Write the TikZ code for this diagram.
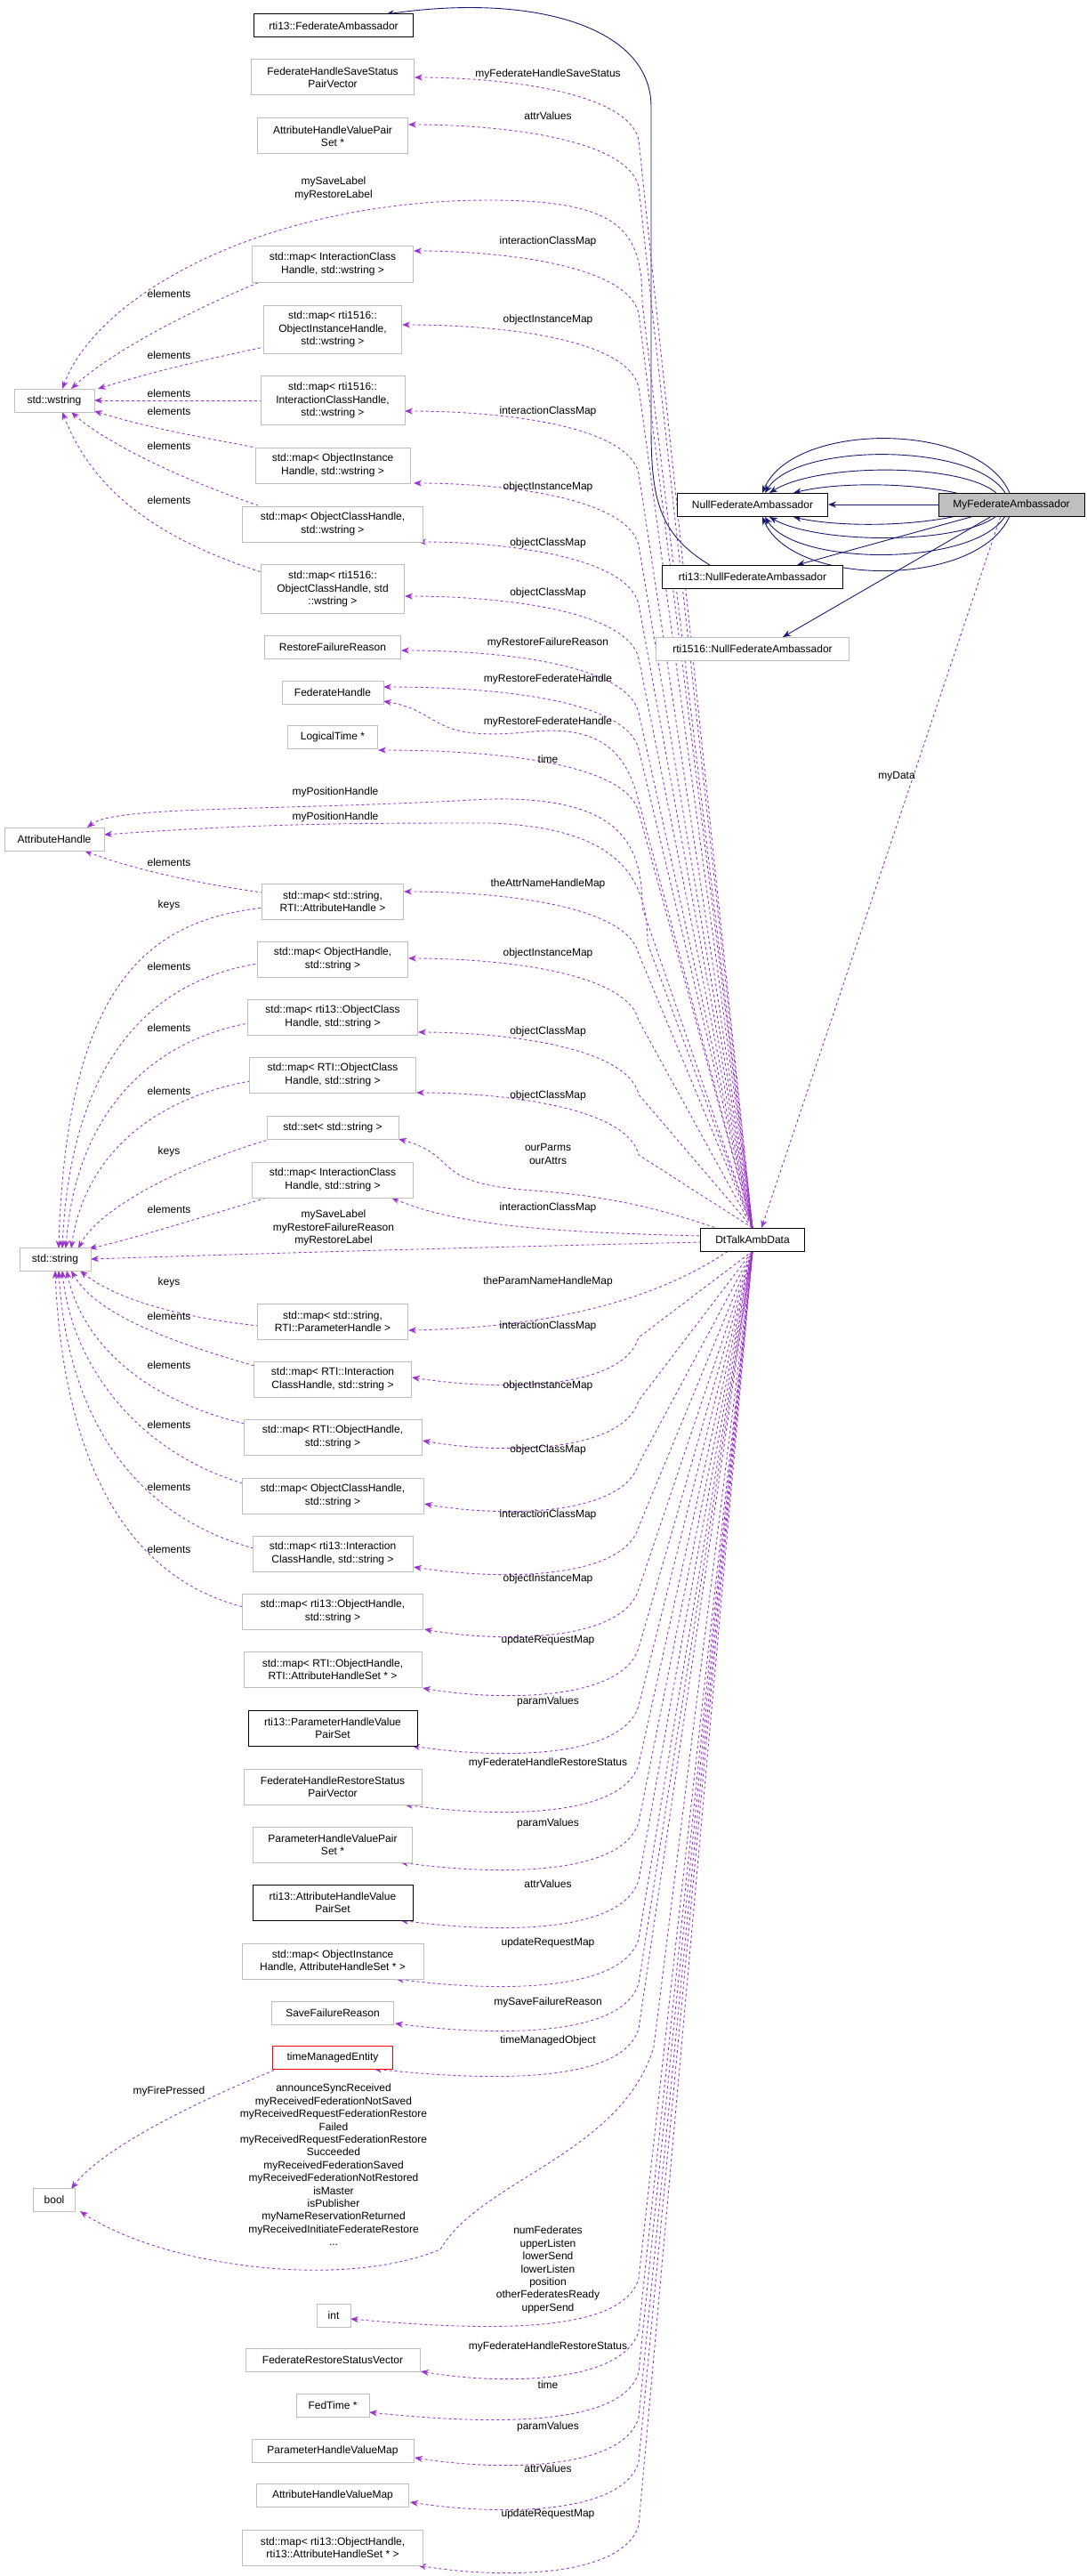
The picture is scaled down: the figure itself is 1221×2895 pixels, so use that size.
\documentclass[tikz,border=0pt]{standalone}
\usepackage{fontspec}
\setmainfont{Liberation Sans}
\usetikzlibrary{arrows.meta,calc}
\definecolor{pur}{HTML}{9A32CD}
\definecolor{nav}{HTML}{191970}
\definecolor{gb}{HTML}{BFBFBF}
\newcommand\bx[7][gb]{\node[box,draw=#1,minimum width=#5pt,minimum height=#6pt] (#2) at (#3,#4) {#7};}
\newcommand\dup[4]{\draw[dep] #1 .. controls (560,#2) and (705,#2+15) .. (718,#2+70) -- (dtn); \node[lab] at (616,#4) {#3};}
\newcommand\ddn[4]{\draw[dep] #1 .. controls (560,#2+15) and (700,#2+15) .. (718,#2-45) -- (dts); \node[lab] at (616,#4) {#3};}
\begin{document}
\begin{tikzpicture}[x=1pt,y=-1pt,
  box/.style={line width=1pt,fill=white,align=center,inner sep=0pt,font=\fontsize{12}{14.4}\selectfont},
  lab/.style={align=center,inner sep=0pt,font=\fontsize{12}{14.4}\selectfont},
  dep/.style={pur,dashed,line width=0.9pt,{Stealth[length=9pt,width=7pt]}-},
  inh/.style={nav,line width=0.9pt,-{Stealth[length=9pt,width=7pt]}}]
\useasboundingbox (0,0) rectangle (1221,2895);
\coordinate (dtn) at (846,1380);
\coordinate (dts) at (846,1406);
% navy
\draw[inh] (798,635) .. controls (740,600) and (732,560) .. (732,480) -- (732,120) .. controls (732,30) and (600,-8) .. (434,16);
\draw[inh] (1055,567) -- (931,567);
\draw[inh] (1135,554) .. controls (1100,473) and (892,473) .. (857,554);
\draw[inh] (1130,554) .. controls (1095,497) and (895,497) .. (860,554);
\draw[inh] (1120,554) .. controls (1080,520) and (920,520) .. (865,554);
\draw[inh] (1075,554) .. controls (1020,542) and (940,542) .. (892,554);
\draw[inh] (1075,580) .. controls (1020,592) and (940,592) .. (892,581);
\draw[inh] (1120,580) .. controls (1080,612) and (920,612) .. (865,581);
\draw[inh] (1130,580) .. controls (1095,637) and (895,637) .. (860,581);
\draw[inh] (1135,580) .. controls (1100,661) and (892,661) .. (857,581);
\draw[inh] (1095,580) -- (896,635);
\draw[inh] (1115,580) -- (880,716);
% myData
\draw[dep] (856,1380) -- (1125,580);
\node[lab] at (1008,873) {myData};
% upward from DtTalkAmbData
\dup{(466,87)}{87}{myFederateHandleSaveStatus}{83}
\dup{(459,140)}{140}{attrValues}{130}
\dup{(465,282)}{282}{interactionClassMap}{271}
\dup{(452,365)}{365}{objectInstanceMap}{359}
\dup{(455,462)}{462}{interactionClassMap}{462}
\dup{(465,543)}{543}{objectInstanceMap}{547}
\dup{(470,609)}{609}{objectClassMap}{610}
\dup{(455,670)}{670}{objectClassMap}{666}
\dup{(451,731)}{731}{myRestoreFailureReason}{722}
\dup{(431,772)}{772}{myRestoreFederateHandle}{763}
\draw[dep] (431,788) .. controls (500,800) and (480,835) .. (600,822) .. controls (680,815) and (705,850) .. (718,900) -- (dtn);
\node[lab] at (616,811) {myRestoreFederateHandle};
\dup{(425,843)}{843}{time}{853}
\dup{(454,1002)}{1002}{theAttrNameHandleMap}{993}
\dup{(459,1077)}{1077}{objectInstanceMap}{1071}
\dup{(470,1160)}{1160}{objectClassMap}{1159}
\dup{(468,1228)}{1228}{objectClassMap}{1231}
\draw[dep] (448,1280) .. controls (520,1300) and (480,1330) .. (600,1338) .. controls (700,1345) and (760,1365) .. (805,1380);
\node[lab] at (616,1297) {ourParms\\ourAttrs};
\draw[dep] (440,1346) .. controls (520,1380) and (640,1385) .. (788,1389);
\node[lab] at (616,1357) {interactionClassMap};
% downward from DtTalkAmbData
\draw[dep] (459,1495) .. controls (620,1492) and (740,1460) .. (820,1405);
\node[lab] at (616,1440) {theParamNameHandleMap};
\ddn{(463,1548)}{1548}{interactionClassMap}{1490}
\ddn{(475,1619)}{1619}{objectInstanceMap}{1557}
\ddn{(477,1690)}{1690}{objectClassMap}{1629}
\ddn{(465,1761)}{1761}{interactionClassMap}{1702}
\ddn{(477,1831)}{1831}{objectInstanceMap}{1774}
\ddn{(475,1897)}{1897}{updateRequestMap}{1843}
\ddn{(463,1962)}{1962}{paramValues}{1912}
\ddn{(455,2028)}{2028}{myFederateHandleRestoreStatus}{1981}
\ddn{(450,2093)}{2093}{paramValues}{2049}
\ddn{(450,2158)}{2158}{attrValues}{2117}
\ddn{(445,2224)}{2224}{updateRequestMap}{2183}
\ddn{(444,2274)}{2274}{mySaveFailureReason}{2250}
\ddn{(420,2325)}{2325}{timeManagedObject}{2293}
\ddn{(394,2606)}{2606}{numFederates\\upperListen\\lowerSend\\lowerListen\\position\\otherFederatesReady\\upperSend}{2551}
\ddn{(473,2665)}{2665}{myFederateHandleRestoreStatus}{2637}
\ddn{(415,2711)}{2711}{time}{2680}
\ddn{(466,2762)}{2762}{paramValues}{2727}
\ddn{(461,2812)}{2812}{attrValues}{2774}
\ddn{(470,2883)}{2883}{updateRequestMap}{2825}
% bool
\draw[dep] (90,2485) .. controls (180,2545) and (380,2575) .. (495,2528) .. controls (540,2450) and (700,2420) .. (735,2300) -- (dts);
\node[lab] at (375,2433) {announceSyncReceived\\myReceivedFederationNotSaved\\myReceivedRequestFederationRestore\\Failed\\myReceivedRequestFederationRestore\\Succeeded\\myReceivedFederationSaved\\myReceivedFederationNotRestored\\isMaster\\isPublisher\\myNameReservationReturned\\myReceivedInitiateFederateRestore\\...};
\draw[dep] (80,2460) .. controls (110,2420) and (200,2370) .. (312,2325);
\node[lab] at (190,2350) {myFirePressed};
% wstring
\draw[dep] (70,437) .. controls (110,330) and (300,225) .. (550,225) .. controls (700,225) and (722,260) .. (722,340) -- (dtn);
\node[lab] at (375,212) {mySaveLabel\\myRestoreLabel};
\draw[dep] (80,437) .. controls (120,400) and (200,355) .. (292,317);
\draw[dep] (110,437) .. controls (180,415) and (250,400) .. (297,390);
\draw[dep] (106,450) -- (293,450);
\draw[dep] (106,462) .. controls (180,485) and (250,495) .. (287,503);
\draw[dep] (80,463) .. controls (110,490) and (180,530) .. (290,568);
\draw[dep] (70,463) .. controls (100,540) and (160,600) .. (294,643);
\foreach \yy in {330,399,442,462,501,562} \node[lab] at (190,\yy) {elements};
% AttributeHandle
\draw[dep] (98,930) .. controls (130,905) and (300,912) .. (550,898) .. controls (700,895) and (722,950) .. (722,1020) -- (dtn);
\node[lab] at (377,890) {myPositionHandle};
\draw[dep] (117,938) .. controls (300,925) and (400,925) .. (550,925) .. controls (700,930) and (728,990) .. (728,1060) -- (dtn);
\node[lab] at (377,918) {myPositionHandle};
\draw[dep] (95,956) .. controls (130,970) and (200,990) .. (295,1003);
\node[lab] at (190,969) {elements};
% std::string
\draw[dep] (66,1403) .. controls (75,1100) and (170,1035) .. (295,1020);
\draw[dep] (70,1403) .. controls (80,1180) and (180,1100) .. (290,1083);
\draw[dep] (74,1403) .. controls (85,1250) and (170,1170) .. (279,1150);
\draw[dep] (80,1403) .. controls (95,1300) and (170,1235) .. (281,1215);
\draw[dep] (88,1403) .. controls (110,1360) and (200,1310) .. (305,1280);
\draw[dep] (100,1403) .. controls (140,1395) and (220,1370) .. (300,1346);
\node[lab] at (190,1017) {keys};
\node[lab] at (190,1086) {elements};
\node[lab] at (190,1155) {elements};
\node[lab] at (190,1226) {elements};
\node[lab] at (190,1294) {keys};
\node[lab] at (190,1359) {elements};
\draw[dep] (102,1415) .. controls (400,1405) and (700,1398) .. (788,1396);
\node[lab] at (375,1380) {mySaveLabel\\myRestoreFailureReason\\myRestoreLabel};
\draw[dep] (90,1428) .. controls (130,1460) and (200,1480) .. (290,1490);
\draw[dep] (80,1428) .. controls (110,1480) and (200,1510) .. (286,1535);
\draw[dep] (75,1428) .. controls (90,1500) and (150,1570) .. (275,1600);
\draw[dep] (70,1428) .. controls (80,1530) and (150,1630) .. (273,1667);
\draw[dep] (66,1428) .. controls (75,1580) and (140,1700) .. (285,1740);
\draw[dep] (62,1428) .. controls (70,1620) and (130,1770) .. (274,1806);
\node[lab] at (190,1441) {keys};
\foreach \yy in {1479,1534,1601,1671,1741} \node[lab] at (190,\yy) {elements};
% boxes
\bx[black]{fa13}{375}{29}{179}{26}{rti13::FederateAmbassador}
\bx{fhss}{374}{87}{183}{40}{FederateHandleSaveStatus\\PairVector}
\bx{ahvps}{374}{153}{169}{40}{AttributeHandleValuePair\\Set *}
\bx{micw}{374}{297}{181}{40}{std::map< InteractionClass\\Handle, std::wstring >}
\bx{moihw}{374}{370}{155}{54}{std::map< rti1516::\\ObjectInstanceHandle,\\std::wstring >}
\bx{mich1516}{374}{450}{162}{55}{std::map< rti1516::\\InteractionClassHandle,\\std::wstring >}
\bx{moiw}{374}{523}{174}{40}{std::map< ObjectInstance\\Handle, std::wstring >}
\bx{mochw}{374}{589}{203}{40}{std::map< ObjectClassHandle,\\std::wstring >}
\bx{moch1516}{374}{662}{161}{55}{std::map< rti1516::\\ObjectClassHandle, std\\::wstring >}
\bx{rfr}{374}{727}{153}{26}{RestoreFailureReason}
\bx{wstr}{61}{450}{90}{26}{std::wstring}
\bx[black]{nfa}{846}{567}{169}{26}{NullFederateAmbassador}
\node[box,draw=black,fill=gb,minimum width=164pt,minimum height=26pt] (myfa) at (1137,567) {MyFederateAmbassador};
\bx[black]{nfa13}{846}{648}{203}{26}{rti13::NullFederateAmbassador}
\bx{nfa1516}{846}{729}{217}{26}{rti1516::NullFederateAmbassador}
\bx{fh}{374}{778}{114}{26}{FederateHandle}
\bx{lt}{374}{828}{101}{26}{LogicalTime *}
\bx{ah}{61}{943}{112}{26}{AttributeHandle}
\bx{msa}{374}{1013}{159}{40}{std::map< std::string,\\RTI::AttributeHandle >}
\bx{mohs}{374}{1078}{169}{40}{std::map< ObjectHandle,\\std::string >}
\bx{m13oc}{374}{1143}{191}{40}{std::map< rti13::ObjectClass\\Handle, std::string >}
\bx{mrtioc}{374}{1208}{187}{40}{std::map< RTI::ObjectClass\\Handle, std::string >}
\bx{sset}{374}{1267}{148}{26}{std::set< std::string >}
\bx{mics}{374}{1326}{181}{40}{std::map< InteractionClass\\Handle, std::string >}
\bx{str}{62}{1415}{80}{26}{std::string}
\bx[black]{dt}{846}{1393}{117}{26}{DtTalkAmbData}
\bx{msp}{374}{1485}{169}{40}{std::map< std::string,\\RTI::ParameterHandle >}
\bx{mrtiic}{374}{1550}{177}{40}{std::map< RTI::Interaction\\ClassHandle, std::string >}
\bx{mrtioh}{374}{1615}{200}{40}{std::map< RTI::ObjectHandle,\\std::string >}
\bx{mochs}{374}{1681}{204}{40}{std::map< ObjectClassHandle,\\std::string >}
\bx{m13ic}{374}{1746}{180}{40}{std::map< rti13::Interaction\\ClassHandle, std::string >}
\bx{m13oh}{374}{1811}{203}{40}{std::map< rti13::ObjectHandle,\\std::string >}
\bx{mrtiohs}{374}{1876}{200}{40}{std::map< RTI::ObjectHandle,\\RTI::AttributeHandleSet * >}
\bx[black]{phvps13}{374}{1942}{190}{40}{rti13::ParameterHandleValue\\PairSet}
\bx{fhrs}{374}{2008}{200}{40}{FederateHandleRestoreStatus\\PairVector}
\bx{phvps}{374}{2073}{179}{40}{ParameterHandleValuePair\\Set *}
\bx[black]{ahvps13}{374}{2138}{180}{40}{rti13::AttributeHandleValue\\PairSet}
\bx{mois}{374}{2204}{204}{40}{std::map< ObjectInstance\\Handle, AttributeHandleSet * >}
\bx{sfr}{374}{2262}{137}{26}{SaveFailureReason}
\bx[red]{tme}{374}{2312}{135}{26}{timeManagedEntity}
\bx{bool}{61}{2472}{47}{26}{bool}
\bx{int}{375}{2602}{38}{26}{int}
\bx{frsv}{374}{2652}{196}{26}{FederateRestoreStatusVector}
\bx{ft}{374}{2703}{82}{26}{FedTime *}
\bx{phvm}{374}{2754}{182}{26}{ParameterHandleValueMap}
\bx{ahvm}{374}{2804}{171}{26}{AttributeHandleValueMap}
\bx{m13ohs}{374}{2863}{203}{40}{std::map< rti13::ObjectHandle,\\rti13::AttributeHandleSet * >}
\end{tikzpicture}
\end{document}
